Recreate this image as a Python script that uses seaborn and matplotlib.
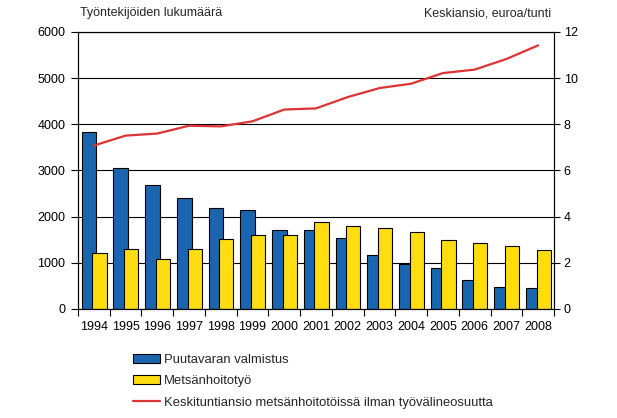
import numpy as np
import pandas as pd
import matplotlib
matplotlib.use('Agg')
import matplotlib.pyplot as plt
import seaborn as sns
from matplotlib.patches import Patch
from matplotlib.lines import Line2D

vuodet = ['1994', '1995', '1996', '1997', '1998', '1999', '2000', '2001',
          '2002', '2003', '2004', '2005', '2006', '2007', '2008']
puutavara = [3830, 3050, 2690, 2400, 2190, 2140, 1710, 1710,
             1540, 1170, 980, 890, 630, 480, 450]
metsanhoito = [1210, 1300, 1080, 1300, 1520, 1600, 1600, 1880,
               1800, 1750, 1670, 1490, 1430, 1360, 1280]
keskiansio = [7.08, 7.51, 7.60, 7.94, 7.91, 8.13, 8.64, 8.69,
              9.18, 9.57, 9.76, 10.22, 10.37, 10.83, 11.42]

sarjat = ['Puutavaran valmistus', 'Metsänhoitotyö',
          'Keskituntiansio metsänhoitotöissä ilman työvälineosuutta']

sininen = '#1a66ae'
keltainen = '#ffdd0f'
punainen = '#dd3333'

sns.set_theme(style='white')
plt.rcParams['font.family'] = ['Liberation Sans', 'DejaVu Sans']

df = pd.DataFrame({
    'vuosi': vuodet * 2,
    'arvo': puutavara + metsanhoito,
    'sarja': [sarjat[0]] * len(vuodet) + [sarjat[1]] * len(vuodet),
})

fig = plt.figure(figsize=(6.17, 4.18), dpi=100)
ax = fig.add_axes([0.1264, 0.2608, 0.7715, 0.6627])

sns.barplot(data=df, x='vuosi', y='arvo', hue='sarja', palette=[sininen, keltainen],
            edgecolor='black', linewidth=0.8, saturation=1, legend=False, ax=ax)

# Excel-tyylinen päällekkäisyys
for i, bar in enumerate(ax.containers[0]):
    bar.set_x(i - 0.384)
    bar.set_width(0.464)
for i, bar in enumerate(ax.containers[1]):
    bar.set_x(i - 0.048)
    bar.set_width(0.448)

ax.set_ylim(0, 6000)
ax.set_yticks(range(0, 6001, 1000))
ax.yaxis.grid(True, color='black', linewidth=0.8)
ax.set_axisbelow(True)
ax.set_xlabel('')
ax.set_ylabel('')
ax.set_xticks(np.arange(-0.5, len(vuodet), 1), minor=True)
ax.tick_params(axis='x', which='major', length=0, pad=9, labelsize=9, colors='black')
ax.tick_params(axis='x', which='minor', bottom=True, length=5, width=0.8, color='black', direction='out')
ax.tick_params(axis='y', left=True, length=5, width=0.8, pad=4, labelsize=9,
               colors='black', direction='out')
for s in ax.spines.values():
    s.set_color('black')
    s.set_linewidth(0.8)

ax2 = ax.twinx()
sns.lineplot(x=np.arange(len(vuodet)), y=keskiansio, color=punainen, linewidth=1.6, ax=ax2)
ax2.set_ylim(0, 12)
ax2.set_yticks(range(0, 13, 2))
ax2.grid(False)
ax2.set_ylabel('')
ax2.tick_params(axis='y', right=True, length=4, width=0.8, pad=3, labelsize=9,
                colors='black', direction='out')
for s in ax2.spines.values():
    s.set_color('black')
    s.set_linewidth(0.8)
ax.set_xlim(-0.5, len(vuodet) - 0.5)

fig.text(80 / 617, 1 - 13 / 418, 'Työntekijöiden lukumäärä', ha='left', va='center', fontsize=9)
fig.text(551 / 617, 1 - 13 / 418, 'Keskiansio, euroa/tunti', ha='right', va='center', fontsize=9)

kahvat = [Patch(facecolor=sininen, edgecolor='black', linewidth=0.8),
          Patch(facecolor=keltainen, edgecolor='black', linewidth=0.8),
          Line2D([], [], color=punainen, linewidth=1.6)]
fig.legend(kahvat, sarjat, loc='upper left', bbox_to_anchor=(133 / 617, 1 - 354 / 418),
           frameon=False, fontsize=9.4, handlelength=2.1, handletextpad=0.3,
           labelspacing=0.7, borderpad=0, borderaxespad=0)

fig.savefig('out.png', dpi=100)
